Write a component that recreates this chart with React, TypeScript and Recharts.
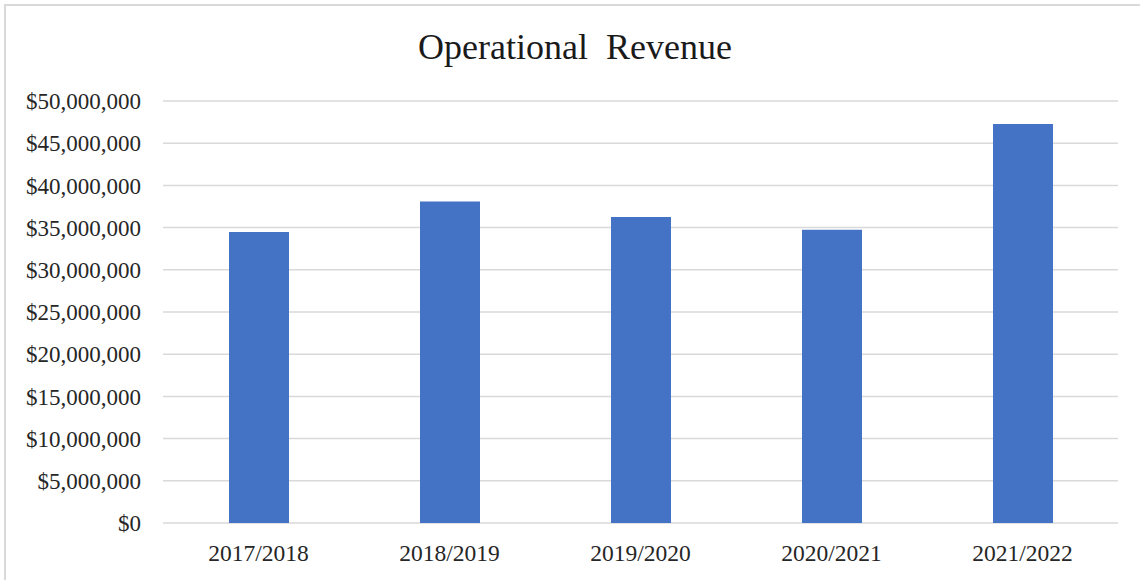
import { Bar, BarChart, CartesianGrid, XAxis, YAxis } from "recharts";

// fiscal years and operational revenue (USD)
const years = ["2017/2018", "2018/2019", "2019/2020", "2020/2021", "2021/2022"];
const revenue = [34480000, 38100000, 36260000, 34750000, 47270000];
const yTicks = [0, 5000000, 10000000, 15000000, 20000000, 25000000, 30000000, 35000000, 40000000, 45000000, 50000000];

const data = years.map((year, i) => ({ year, revenue: revenue[i] }));

const serif = '"Liberation Serif", "Times New Roman", serif';

const money = (v: number) => "$" + v.toLocaleString("en-US");

export default function App() {
  return (
    <div style={{ position: "relative", width: 1140, height: 580, overflow: "hidden", background: "#fff" }}>
      <style>{`body { margin: 0; overflow: hidden; }`}</style>
      <div
        style={{
          position: "absolute",
          left: 4,
          top: 4,
          width: 1160,
          height: 600,
          border: "2px solid #d9d9d9",
        }}
      />
      <svg width={1140} height={80} style={{ position: "absolute", left: 0, top: 0 }}>
        <text
          x={575}
          y={59}
          textAnchor="middle"
          fontFamily={serif}
          fontSize={36}
          fill="#1a1a1a"
          wordSpacing={9}
        >
          Operational Revenue
        </text>
      </svg>
      <div style={{ position: "absolute", left: 0, top: 0 }}>
        <BarChart
          width={1140}
          height={580}
          data={data}
          margin={{ top: 101, right: 22, left: 0, bottom: 17 }}
          barSize={60}
        >
          <CartesianGrid vertical={false} stroke="#d9d9d9" strokeWidth={1.5} />
          <XAxis
            dataKey="year"
            height={40}
            axisLine={false}
            tickLine={false}
            tickSize={0}
            tickMargin={21}
            tick={{ fontFamily: serif, fontSize: 23.5, fill: "#262626" }}
          />
          <YAxis
            width={163}
            domain={[0, 50000000]}
            ticks={yTicks}
            interval={0}
            axisLine={false}
            tickLine={false}
            tickSize={0}
            tickMargin={22}
            tickFormatter={money}
            tick={{ fontFamily: serif, fontSize: 23, fill: "#262626" }}
          />
          <Bar dataKey="revenue" fill="#4472c4" isAnimationActive={false} />
        </BarChart>
      </div>
    </div>
  );
}
